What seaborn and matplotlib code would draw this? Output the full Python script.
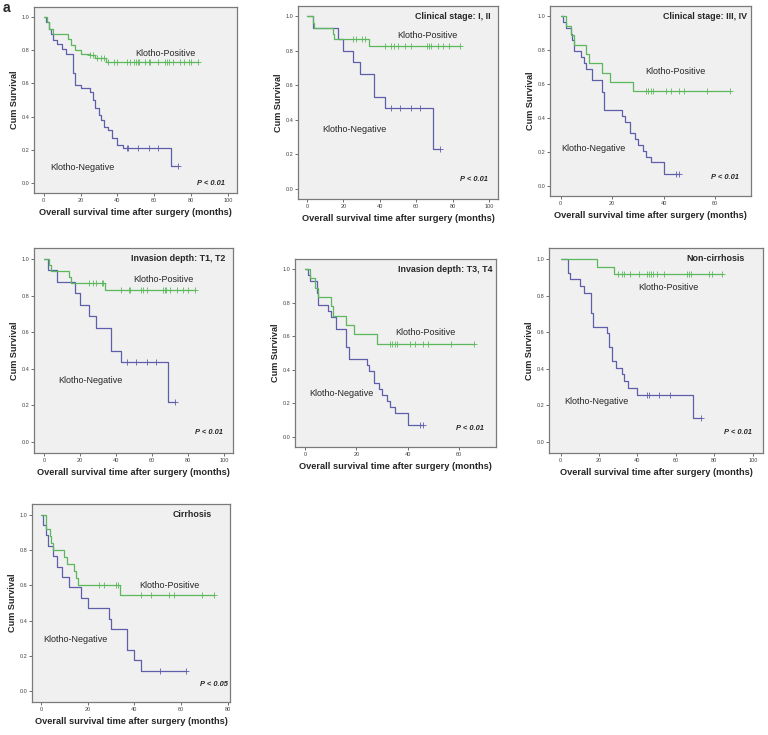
import numpy as np
import pandas as pd
import seaborn as sns
import matplotlib.pyplot as plt

# Kaplan-Meier step values (time in months)
# each group: event times, survival after each event, censor times

# panel 1 - all patients
p1_pos_t = [2, 3, 5, 13, 15, 17, 20, 25, 28, 34]
p1_pos_s = [0.97, 0.93, 0.90, 0.87, 0.83, 0.80, 0.78, 0.77, 0.75, 0.73]
p1_pos_c = [25, 27, 29, 31, 33, 35, 38, 40, 45, 47, 49, 50, 51, 52, 55, 57, 58, 62,
            66, 67, 68, 70, 74, 76, 79, 80, 84]
p1_neg_t = [1, 3, 4, 5, 7, 10, 12, 16, 17, 20, 25, 27, 28, 30, 31, 33, 35, 37, 40, 43, 69]
p1_neg_s = [0.97, 0.93, 0.90, 0.86, 0.84, 0.81, 0.78, 0.66, 0.59, 0.57, 0.55, 0.50, 0.45,
            0.41, 0.38, 0.34, 0.32, 0.27, 0.23, 0.21, 0.10]
p1_neg_c = [45, 46, 51, 57, 62, 73]

# panel 2 - clinical stage I, II
p2_pos_t = [3, 4, 14, 15, 34]
p2_pos_s = [0.96, 0.93, 0.90, 0.87, 0.83]
p2_pos_c = [25, 27, 30, 32, 43, 46, 48, 50, 54, 57, 66, 67, 68, 72, 75, 78, 84]
p2_neg_t = [3, 17, 20, 25, 29, 37, 43, 69]
p2_neg_s = [0.933, 0.867, 0.80, 0.733, 0.667, 0.533, 0.467, 0.233]
p2_neg_c = [46, 51, 57, 62, 73]

# panel 3 - clinical stage III, IV
p3_pos_t = [2, 4, 5, 10, 11, 16, 19, 28]
p3_pos_s = [0.944, 0.889, 0.833, 0.778, 0.722, 0.667, 0.611, 0.556]
p3_pos_c = [33, 34, 35, 36, 41, 43, 46, 48, 57, 66]
p3_neg_t = [1, 2, 4, 4.5, 5, 8, 9, 10, 12, 16, 17, 24, 25, 27, 29, 30, 32, 33, 35, 40]
p3_neg_s = [0.966, 0.931, 0.897, 0.862, 0.793, 0.759, 0.724, 0.690, 0.621, 0.552, 0.448,
            0.414, 0.379, 0.310, 0.276, 0.241, 0.207, 0.172, 0.138, 0.069]
p3_neg_c = [45, 46]

# panel 4 - invasion depth T1, T2
p4_pos_t = [3, 4, 14, 15, 34]
p4_pos_s = [0.967, 0.933, 0.90, 0.87, 0.83]
p4_pos_c = [25, 27, 29, 32, 33, 43, 47, 48, 54, 55, 57, 66, 67, 68, 70, 74, 77, 80, 84]
p4_neg_t = [2, 7, 17, 20, 25, 29, 37, 43, 69]
p4_neg_s = [0.938, 0.875, 0.813, 0.75, 0.688, 0.625, 0.50, 0.438, 0.219]
p4_neg_c = [46, 51, 57, 62, 73]

# panel 5 - invasion depth T3, T4
p5_pos_t = [2, 4, 5, 10, 11, 16, 19, 28]
p5_pos_s = [0.944, 0.889, 0.833, 0.778, 0.722, 0.667, 0.611, 0.556]
p5_pos_c = [33, 34, 35, 36, 41, 43, 46, 48, 57, 66]
p5_neg_t = [1, 2, 4.5, 5, 9, 10, 12, 16, 17, 24, 25, 27, 29, 30, 32, 33, 35, 40]
p5_neg_s = [0.964, 0.929, 0.857, 0.786, 0.75, 0.714, 0.643, 0.536, 0.464, 0.429, 0.393,
            0.321, 0.286, 0.25, 0.214, 0.179, 0.143, 0.071]
p5_neg_c = [45, 46]

# panel 6 - non-cirrhosis
p6_pos_t = [19, 28]
p6_pos_s = [0.958, 0.917]
p6_pos_c = [30, 32, 33, 36, 41, 45, 46, 47, 48, 50, 54, 66, 67, 68, 77, 79, 84]
p6_neg_t = [4, 5, 10, 12, 16, 17, 24, 25, 27, 29, 32, 33, 35, 40, 69]
p6_neg_s = [0.926, 0.889, 0.852, 0.815, 0.704, 0.63, 0.593, 0.519, 0.444, 0.407, 0.37,
            0.333, 0.296, 0.259, 0.13]
p6_neg_c = [45, 46, 51, 57, 73]

# panel 7 - cirrhosis
p7_pos_t = [2, 4, 4.5, 5, 10, 11, 14, 15, 16, 34]
p7_pos_s = [0.92, 0.88, 0.84, 0.80, 0.76, 0.72, 0.68, 0.64, 0.60, 0.545]
p7_pos_c = [25, 27, 32, 33, 43, 47, 55, 57, 69, 74]
p7_neg_t = [1, 2, 3, 5, 7, 9, 12, 17, 20, 29, 30, 37, 40, 43]
p7_neg_s = [0.941, 0.882, 0.824, 0.765, 0.706, 0.647, 0.588, 0.529, 0.471, 0.412, 0.353,
            0.235, 0.176, 0.118]
p7_neg_c = [51, 62]

titles = ["", "Clinical stage: I, II", "Clinical stage: III, IV", "Invasion depth: T1, T2",
          "Invasion depth: T3, T4", "Non-cirrhosis", "Cirrhosis"]
p_labels = ["P < 0.01", "P < 0.01", "P < 0.01", "P < 0.01", "P < 0.01", "P < 0.01", "P < 0.05"]
x_ticks = [[0, 20, 40, 60, 80, 100], [0, 20, 40, 60, 80, 100], [0, 20, 40, 60],
           [0, 20, 40, 60, 80, 100], [0, 20, 40, 60], [0, 20, 40, 60, 80, 100],
           [0, 20, 40, 60, 80]]

groups = [
    (p1_pos_t, p1_pos_s, p1_pos_c, p1_neg_t, p1_neg_s, p1_neg_c),
    (p2_pos_t, p2_pos_s, p2_pos_c, p2_neg_t, p2_neg_s, p2_neg_c),
    (p3_pos_t, p3_pos_s, p3_pos_c, p3_neg_t, p3_neg_s, p3_neg_c),
    (p4_pos_t, p4_pos_s, p4_pos_c, p4_neg_t, p4_neg_s, p4_neg_c),
    (p5_pos_t, p5_pos_s, p5_pos_c, p5_neg_t, p5_neg_s, p5_neg_c),
    (p6_pos_t, p6_pos_s, p6_pos_c, p6_neg_t, p6_neg_s, p6_neg_c),
    (p7_pos_t, p7_pos_s, p7_pos_c, p7_neg_t, p7_neg_s, p7_neg_c),
]

# layout: axes boxes in pixels (left, top, right, bottom), x limits
boxes = [(34, 7, 237, 193), (298, 6, 498, 199), (550, 6, 751, 196),
         (34, 248, 233, 453), (295, 259, 496, 447), (549, 248, 763, 453),
         (32, 504, 230, 702)]
xlims = [(-5.3, 105), (-5, 105), (-4.2, 74), (-5.5, 105), (-4, 74.5), (-6, 105.3), (-3.8, 81)]
# label positions (data coords): positive, negative, p-value
pos_xy = [(49.6, 0.78), (49.7, 0.887), (32.8, 0.676), (49.6, 0.887), (35.3, 0.624),
          (40.5, 0.843), (42.3, 0.60)]
neg_xy = [(3.4, 0.096), (8.2, 0.344), (0.1, 0.222), (8.2, 0.338), (1.6, 0.257),
          (1.7, 0.219), (1.0, 0.296)]
p_xy = [(98.6, 0.0), (99.5, 0.052), (69.4, 0.05), (99.6, 0.05), (69.9, 0.053),
        (99.5, 0.05), (80.0, 0.04)]
title_xy = [None, (101, 1.0), (72.4, 1.0), (100.9, 1.0), (73.2, 1.0), (96, 1.0), (73.3, 1.0)]

green = "#5cb85c"
blue = "#5e5eaa"

sns.set_theme(style="ticks")
plt.rcParams["font.family"] = ["Liberation Sans", "DejaVu Sans"]

W, H = 768, 735
fig = plt.figure(figsize=(W / 100, H / 100), dpi=100)


def km_frame(t, s, c):
    x = [0] + list(t)
    y = [1.0] + list(s)
    if c and max(c) > x[-1]:
        x.append(max(c))
        y.append(y[-1])
    return pd.DataFrame({"time": x, "surv": y})


def surv_at(t, s, c):
    t = np.asarray(t, float)
    s = np.asarray([1.0] + list(s))
    idx = np.searchsorted(t, np.asarray(c, float), side="right")
    return s[idx]


for i, (pt, ps, pc, nt, ns, nc) in enumerate(groups):
    l, tp, r, b = boxes[i]
    ax = fig.add_axes([l / W, 1 - b / H, (r - l) / W, (b - tp) / H])
    ax.set_facecolor("#f0f0f0")

    for t, s, c, col in [(nt, ns, nc, blue), (pt, ps, pc, green)]:
        df = km_frame(t, s, c)
        sns.lineplot(data=df, x="time", y="surv", drawstyle="steps-post", estimator=None,
                     sort=False, color=col, lw=0.9, ax=ax)
        cdf = pd.DataFrame({"time": c, "surv": surv_at(t, s, c)})
        sns.scatterplot(data=cdf, x="time", y="surv", marker="+", s=14, color=col,
                        linewidth=0.6, ax=ax, zorder=3)

    ax.set_xlim(*xlims[i])
    ax.set_ylim(-0.06, 1.06)
    ax.set_xticks(x_ticks[i])
    ax.set_yticks([0.0, 0.2, 0.4, 0.6, 0.8, 1.0])
    ax.set_yticklabels([f"{v:.1f}" for v in ax.get_yticks()])
    ax.tick_params(length=2, width=0.6, color="#555555", labelsize=4, labelcolor="#444444", pad=1.5)
    for sp in ax.spines.values():
        sp.set_color("#7a7a7a")
        sp.set_linewidth(0.9)
    ax.set_xlabel("Overall survival time after surgery (months)", fontsize=6.7,
                  fontweight="bold", labelpad=4)
    ax.set_ylabel("Cum Survival", fontsize=6.6, fontweight="bold", labelpad=1.5)

    ax.text(*pos_xy[i], "Klotho-Positive", fontsize=6.5, va="center", ha="left")
    ax.text(*neg_xy[i], "Klotho-Negative", fontsize=6.5, va="center", ha="left")
    ax.text(*p_xy[i], p_labels[i], fontsize=5.4, fontweight="bold", fontstyle="italic",
            va="center", ha="right")
    if title_xy[i] is not None:
        ax.text(*title_xy[i], titles[i], fontsize=6.4, fontweight="bold",
                va="center", ha="right")

fig.text(0.003, 0.999, "a", fontsize=10, fontweight="bold", va="top", ha="left")

fig.savefig("out.png", dpi=100)
